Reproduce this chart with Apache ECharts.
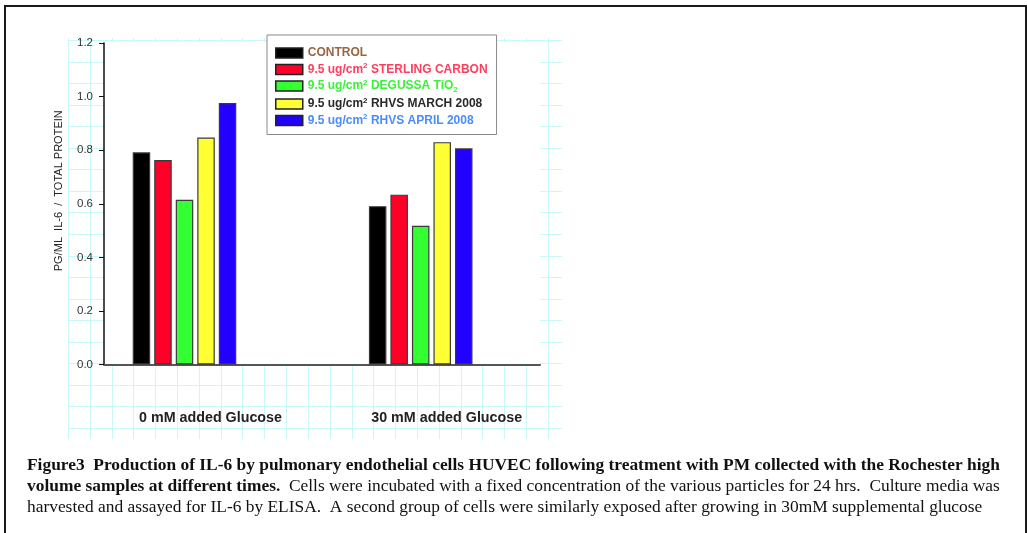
<!DOCTYPE html>
<html>
<head>
<meta charset="utf-8">
<script src="https://cdn.jsdelivr.net/npm/echarts@6/dist/echarts.min.js"></script>
<style>
  html, body { margin: 0; padding: 0; background: #fff; }
  #chart { position: absolute; left: 0; top: 0; width: 1027px; height: 533px; }
  #frame { position: absolute; left: 4px; top: 5px; width: 1019px; height: 600px; border: 2px solid #1a1a1a; pointer-events: none; }
</style>
</head>
<body>
<div id="chart"></div>
<div id="frame"></div>
<script>
// ---- data ----
const categories = ['0 mM added Glucose', '30 mM added Glucose'];
const seriesNames = ['CONTROL', '9.5 ug/cm2 STERLING CARBON', '9.5 ug/cm2 DEGUSSA TiO2', '9.5 ug/cm2 RHVS MARCH 2008', '9.5 ug/cm2 RHVS APRIL 2008'];
const control = [0.792, 0.591];
const sterlingCarbon = [0.763, 0.634];
const degussaTiO2 = [0.615, 0.518];
const rhvsMarch = [0.847, 0.830];
const rhvsApril = [0.976, 0.807];
const yMin = 0, yMax = 1.2, yStep = 0.2;
const yAxisTitle = 'PG/ML  IL-6  /  TOTAL PROTEIN';
const captionLines = [
  [['b', 'Figure3  Production of IL-6 by pulmonary endothelial cells HUVEC following treatment with PM collected with the Rochester high']],
  [['b', 'volume samples at different times.'], ['n', '  Cells were incubated with a fixed concentration of the various particles for 24 hrs.  Culture media was']],
  [['n', 'harvested and assayed for IL-6 by ELISA.  A second group of cells were similarly exposed after growing in 30mM supplemental glucose']]
];

// ---- styles ----
const barColors = ['#000000', '#ff0029', '#33ff33', '#ffff33', '#2200ff'];
const legendTextColors = ['#9a6443', '#ff3d5c', '#3cf03c', '#2a2a2a', '#4a8cff'];
const valueSets = [control, sterlingCarbon, degussaTiO2, rhvsMarch, rhvsApril];
const paperColor = '#c8f8f8';

function legendRich(name) {
  let s = name.replace('cm2 ', 'cm}{s|2}{t| ');
  s = s.replace('TiO2', 'TiO}{u|2}{t|');
  return '{t|' + s + '}';
}

const chart = echarts.init(document.getElementById('chart'), null, { renderer: 'canvas' });

const caption = captionLines.map(line => line.map(([k, t]) => '{' + k + '|' + t + '}').join('')).join('\n');

const option = {
  animation: false,
  backgroundColor: '#ffffff',
  title: {
    text: caption,
    left: 27,
    top: 455,
    padding: 0,
    textStyle: {
      rich: {
        b: { fontFamily: 'Liberation Serif', fontWeight: 'bold', fontSize: 17.4, color: '#111', lineHeight: 21 },
        n: { fontFamily: 'Liberation Serif', fontWeight: 'normal', fontSize: 17.4, color: '#111', lineHeight: 21 }
      }
    }
  },
  legend: {
    orient: 'vertical',
    left: 267,
    top: 35,
    padding: [12, 9, 8, 8],
    backgroundColor: '#ffffff',
    borderColor: '#8a8a8a',
    borderWidth: 1,
    icon: 'rect',
    itemWidth: 27,
    itemHeight: 10,
    itemGap: 3,
    itemStyle: { borderColor: '#222', borderWidth: 1.5 },
    selectedMode: false,
    data: seriesNames.map((n, i) => ({ name: n, textStyle: { color: legendTextColors[i] } })),
    formatter: legendRich,
    textStyle: {
      rich: {
        t: { fontFamily: 'Liberation Sans', fontWeight: 'bold', fontSize: 12, lineHeight: 15, verticalAlign: 'middle' },
        s: { fontFamily: 'Liberation Sans', fontWeight: 'bold', fontSize: 8, lineHeight: 15, verticalAlign: 'top' },
        u: { fontFamily: 'Liberation Sans', fontWeight: 'bold', fontSize: 8, lineHeight: 15, verticalAlign: 'bottom', padding: [4, 0, 0, 0] }
      }
    }
  },
  grid: [
    // 0: bars
    { left: 66.4, top: 43, width: 472.4, height: 321.5, containLabel: false },
    // 1: white plot background + x axis line
    { left: 104, top: 42, width: 436, height: 322.5, show: true, backgroundColor: '#ffffff', borderWidth: 0 },
    // 2: graph paper vertical lines
    { left: 68.3, top: 38, width: 479.7, height: 401 },
    // 3: graph paper horizontal lines
    { left: 68, top: 40.5, width: 494, height: 387.5 }
  ],
  xAxis: [
    {
      gridIndex: 0, type: 'category', data: categories,
      axisLine: { show: false }, axisTick: { show: false },
      axisLabel: { margin: 47, fontFamily: 'Liberation Sans', fontWeight: 'bold', fontSize: 14.3, color: '#222', padding: [0, 0, 0, 52] }
    },
    {
      gridIndex: 1, type: 'value', min: 0, max: 1,
      axisLine: { show: true, lineStyle: { color: '#555', width: 2 } },
      axisTick: { show: false }, axisLabel: { show: false }, splitLine: { show: false }
    },
    {
      gridIndex: 2, type: 'value', min: 0, max: 22, interval: 1, z: -1,
      axisLine: { show: false }, axisTick: { show: false }, axisLabel: { show: false },
      splitLine: { show: true, lineStyle: { color: paperColor, width: 1 } }
    },
    {
      gridIndex: 3, type: 'value', min: 0, max: 1, z: -1,
      axisLine: { show: false }, axisTick: { show: false }, axisLabel: { show: false }, splitLine: { show: false }
    }
  ],
  yAxis: [
    {
      gridIndex: 0, type: 'value', min: yMin, max: yMax, interval: yStep, offset: -37.6,
      name: yAxisTitle, nameLocation: 'middle', nameGap: 40, nameRotate: 90,
      nameTextStyle: { fontFamily: 'Liberation Sans', fontSize: 11, color: '#222', padding: [0, 0, 0, 26] },
      axisLine: { show: true, lineStyle: { color: '#111', width: 1.5 } },
      axisTick: { show: true, length: 5, lineStyle: { color: '#111', width: 1 } },
      axisLabel: { margin: 11, fontFamily: 'Liberation Sans', fontSize: 11.5, color: '#333', formatter: v => v.toFixed(1) },
      splitLine: { show: false }
    },
    {
      gridIndex: 1, type: 'value', min: 0, max: 1,
      axisLine: { show: false }, axisTick: { show: false }, axisLabel: { show: false }, splitLine: { show: false }
    },
    {
      gridIndex: 2, type: 'value', min: 0, max: 1, z: -1,
      axisLine: { show: false }, axisTick: { show: false }, axisLabel: { show: false }, splitLine: { show: false }
    },
    {
      gridIndex: 3, type: 'value', min: 0, max: 18, interval: 1, z: -1,
      axisLine: { show: false }, axisTick: { show: false }, axisLabel: { show: false },
      splitLine: { show: true, lineStyle: { color: paperColor, width: 1 } }
    }
  ],
  series: seriesNames.map((n, i) => ({
    name: n,
    type: 'bar',
    xAxisIndex: 0,
    yAxisIndex: 0,
    data: valueSets[i],
    barWidth: 17.5,
    barGap: '23%',
    itemStyle: { color: barColors[i], borderColor: '#3a3a3a', borderWidth: 1.2 }
  }))
};

chart.setOption(option);
</script>
</body>
</html>
